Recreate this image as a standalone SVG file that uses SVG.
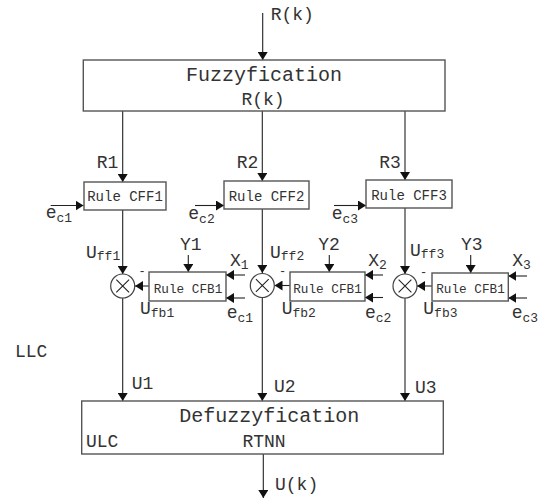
<svg xmlns="http://www.w3.org/2000/svg" width="540" height="498" viewBox="0 0 540 498">
<defs>
<marker id="ah" markerUnits="userSpaceOnUse" markerWidth="8" markerHeight="10" refX="8" refY="5" orient="auto">
<path d="M0,0 L8,5 L0,10 z" fill="#111"/>
</marker>
<style>
.box{fill:#fff;stroke:#555;stroke-width:1.4}
.ln{fill:none;stroke:#222;stroke-width:1.1}
.ar{fill:none;stroke:#222;stroke-width:1.1;marker-end:url(#ah)}
text{font-family:"Liberation Mono","Courier New",monospace;fill:#333}
.big{font-size:20px}
.lb{font-size:18px}
.r14{font-size:14px}
.r13{font-size:12.7px}
.sub{font-size:13px}
.mn{font-size:12px}
.sum{fill:#fff;stroke:#444;stroke-width:1.2}
</style>
</defs>
<rect width="540" height="498" fill="#fff"/>

<g id="connectors">
<line class="ar" x1="262.7" y1="13" x2="262.7" y2="60"/>
<line class="ar" x1="122.7" y1="111" x2="122.7" y2="182"/>
<line class="ar" x1="262.3" y1="111" x2="262.3" y2="181"/>
<line class="ar" x1="405" y1="111" x2="405" y2="180"/>
<line class="ar" x1="50.7" y1="205.5" x2="83.5" y2="205.5"/>
<line class="ar" x1="195" y1="205.5" x2="224" y2="205.5"/>
<line class="ar" x1="334" y1="205.5" x2="366" y2="205.5"/>
<line class="ar" x1="122.7" y1="210" x2="122.7" y2="274"/>
<line class="ar" x1="262.3" y1="209" x2="262.3" y2="273"/>
<line class="ar" x1="405" y1="208" x2="405" y2="274"/>
<line class="ar" x1="188.3" y1="255" x2="188.3" y2="272"/>
<line class="ar" x1="329.3" y1="255" x2="329.3" y2="272"/>
<line class="ar" x1="470.7" y1="255" x2="470.7" y2="273"/>
<line class="ar" x1="245" y1="275" x2="226" y2="275"/>
<line class="ar" x1="245" y1="298" x2="226" y2="298"/>
<line class="ar" x1="383" y1="275" x2="365" y2="275"/>
<line class="ar" x1="383" y1="297.5" x2="365" y2="297.5"/>
<line class="ar" x1="527" y1="276" x2="508.3" y2="276"/>
<line class="ar" x1="527" y1="298" x2="508.3" y2="298"/>
<line class="ar" x1="149" y1="286" x2="135" y2="286"/>
<line class="ar" x1="290" y1="285.5" x2="274.5" y2="285.5"/>
<line class="ar" x1="432" y1="286" x2="417" y2="286"/>
<line class="ar" x1="122.7" y1="298" x2="122.7" y2="401"/>
<line class="ar" x1="262.3" y1="297" x2="262.3" y2="401"/>
<line class="ar" x1="405" y1="298" x2="405" y2="401"/>
<line class="ar" x1="263.3" y1="454" x2="263.3" y2="498"/>
</g>

<g id="fuzzyfication">
<rect class="box" x="83.3" y="60" width="361.7" height="51"/>
<text class="big" x="264" y="81" text-anchor="middle">Fuzzyfication</text>
<text class="lb" x="263" y="105" text-anchor="middle">R(k)</text>
</g>

<g id="cff1">
<rect class="box" x="84" y="182" width="82" height="28"/>
<text class="r14" x="125" y="201" text-anchor="middle">Rule CFF1</text>
</g>
<g id="cff2">
<rect class="box" x="224" y="181" width="85" height="28"/>
<text class="r14" x="266.5" y="200.5" text-anchor="middle">Rule CFF2</text>
</g>
<g id="cff3">
<rect class="box" x="366" y="180" width="86" height="28"/>
<text class="r14" x="409" y="199.5" text-anchor="middle">Rule CFF3</text>
</g>

<g id="cfb1">
<rect class="box" x="149" y="272" width="77" height="29"/>
<text class="r13" x="188" y="292.5" text-anchor="middle">Rule CFB1</text>
</g>
<g id="cfb2">
<rect class="box" x="290" y="272" width="75" height="29"/>
<text class="r13" x="327.5" y="292.5" text-anchor="middle">Rule CFB1</text>
</g>
<g id="cfb3">
<rect class="box" x="432" y="273" width="76.3" height="28"/>
<text class="r13" x="470.5" y="292.5" text-anchor="middle">Rule CFB1</text>
</g>

<g id="sum1">
<circle class="sum" cx="122.7" cy="286" r="12"/>
<path class="ln" d="M116.3,279.6 L129.1,292.4 M129.1,279.6 L116.3,292.4"/>
</g>
<g id="sum2">
<circle class="sum" cx="262.3" cy="285.5" r="12"/>
<path class="ln" d="M255.9,279.1 L268.7,291.9 M268.7,279.1 L255.9,291.9"/>
</g>
<g id="sum3">
<circle class="sum" cx="405" cy="286" r="12"/>
<path class="ln" d="M398.6,279.6 L411.4,292.4 M411.4,279.6 L398.6,292.4"/>
</g>

<g id="defuzzyfication">
<rect class="box" x="81.7" y="401" width="361.6" height="53"/>
<text class="big" x="269.3" y="421.7" text-anchor="middle">Defuzzyfication</text>
<text class="lb" x="86" y="447">ULC</text>
<text class="lb" x="264" y="447" text-anchor="middle">RTNN</text>
</g>

<g id="labels">
<text class="lb" x="270.7" y="20">R(k)</text>
<text class="lb" x="96.7" y="168">R1</text>
<text class="lb" x="236.7" y="168">R2</text>
<text class="lb" x="379.3" y="167.5">R3</text>
<text class="lb" x="45.7" y="218">e<tspan class="sub" dy="4">c1</tspan></text>
<text class="lb" x="188.3" y="218.5">e<tspan class="sub" dy="4">c2</tspan></text>
<text class="lb" x="331.7" y="218.5">e<tspan class="sub" dy="4">c3</tspan></text>
<text class="lb" x="86" y="258">U<tspan class="sub" dy="2">ff1</tspan></text>
<text class="lb" x="270" y="257.5">U<tspan class="sub" dy="2">ff2</tspan></text>
<text class="lb" x="410" y="256">U<tspan class="sub" dy="2">ff3</tspan></text>
<text class="lb" x="180" y="250">Y1</text>
<text class="lb" x="318.3" y="250">Y2</text>
<text class="lb" x="461" y="250">Y3</text>
<text class="lb" x="230" y="266">X<tspan class="sub" dy="3">1</tspan></text>
<text class="lb" x="368.3" y="266">X<tspan class="sub" dy="3">2</tspan></text>
<text class="lb" x="512.3" y="266">X<tspan class="sub" dy="3">3</tspan></text>
<text class="mn" x="138.5" y="275">-</text>
<text class="mn" x="279" y="275">-</text>
<text class="mn" x="420" y="276">-</text>
<text class="lb" x="140" y="314">U<tspan class="sub" dy="3">fb1</tspan></text>
<text class="lb" x="281.7" y="314">U<tspan class="sub" dy="3">fb2</tspan></text>
<text class="lb" x="423.3" y="314">U<tspan class="sub" dy="3">fb3</tspan></text>
<text class="lb" x="226.7" y="318">e<tspan class="sub" dy="4">c1</tspan></text>
<text class="lb" x="365" y="318">e<tspan class="sub" dy="4">c2</tspan></text>
<text class="lb" x="511.7" y="318">e<tspan class="sub" dy="4">c3</tspan></text>
<text class="lb" x="15" y="357">LLC</text>
<text class="lb" x="131.7" y="389">U1</text>
<text class="lb" x="274" y="391.5">U2</text>
<text class="lb" x="415" y="392.5">U3</text>
<text class="lb" x="275" y="490">U(k)</text>
</g>
</svg>
